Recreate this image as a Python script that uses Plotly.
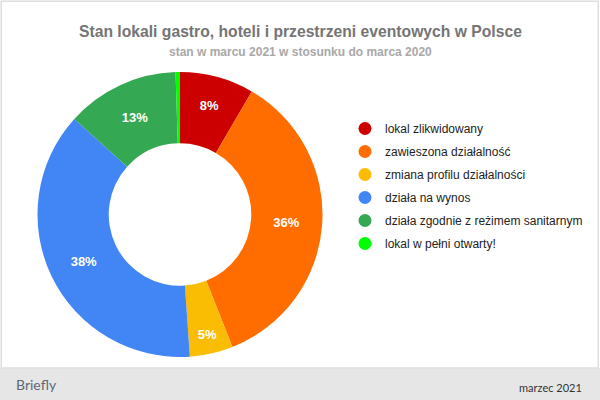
import plotly.graph_objects as go

categories = ["lokal zlikwidowany", "zawieszona działalność", "zmiana profilu działalności",
              "działa na wynos", "działa zgodnie z reżimem sanitarnym", "lokal w pełni otwarty!"]
values = [8.4, 35.6, 4.9, 37.8, 12.8, 0.5]
colors = ["#cc0000", "#ff6d01", "#fbbc04", "#4285f4", "#34a853", "#00ff00"]
shown_labels = ["%{percent:.0%}"] * 5 + [""]

title = "Stan lokali gastro, hoteli i przestrzeni eventowych w Polsce"
subtitle = "stan w marcu 2021 w stosunku do marca 2020"
footer_left = "Briefly"
footer_right = "marzec 2021"

fig = go.Figure()
fig.add_trace(go.Pie(
    labels=categories, values=values, sort=False, direction="clockwise", rotation=0,
    hole=0.5, marker=dict(colors=colors, line=dict(width=0)),
    texttemplate=shown_labels, textposition="inside", insidetextorientation="horizontal",
    textfont=dict(family="Liberation Sans, Arial", size=13, color="white", weight="bold"),
    domain=dict(x=[37.5/600, 322.5/600], y=[43/400, 328/400]),
    showlegend=False, hoverinfo="label+percent",
))
for name, col in zip(categories, colors):
    fig.add_trace(go.Scatter(
        x=[None], y=[None], mode="markers", name=name, legendgroup=name,
        marker=dict(color=col, size=13, symbol="circle"),
    ))

fig.update_layout(
    width=600, height=400, margin=dict(l=0, r=0, t=0, b=0),
    paper_bgcolor="white", plot_bgcolor="white",
    xaxis=dict(visible=False), yaxis=dict(visible=False),
    legend=dict(x=345/600, y=1-114/400, xanchor="left", yanchor="top",
                font=dict(family="Liberation Sans, Arial", size=12, color="#222222"),
                tracegroupgap=4, bgcolor="rgba(0,0,0,0)"),
    shapes=[
        dict(type="rect", xref="paper", yref="paper", x0=0, x1=1, y0=0, y1=32/400,
             fillcolor="#e6e6e6", line=dict(width=0), layer="below"),
        dict(type="rect", xref="paper", yref="paper", x0=0.002, x1=0.997, y0=32/400, y1=0.997,
             fillcolor="rgba(0,0,0,0)", line=dict(color="#dedede", width=1.5), layer="above"),
    ],
    annotations=[
        dict(text=title, x=0.5, y=1-31/400, xref="paper", yref="paper", showarrow=False,
             xanchor="center", yanchor="middle",
             font=dict(family="Liberation Sans, Arial", size=15.7, color="#757575", weight="bold")),
        dict(text=subtitle, x=0.5, y=1-52/400, xref="paper", yref="paper", showarrow=False,
             xanchor="center", yanchor="middle",
             font=dict(family="Liberation Sans, Arial", size=12, color="#a8a8a8", weight="bold")),
        dict(text=footer_left, x=14/600, y=16/400, xref="paper", yref="paper", showarrow=False,
             xanchor="left", yanchor="middle",
             font=dict(family="Lato, Open Sans", size=14, color="#5d6877")),
        dict(text=footer_right, x=584/600, y=13/400, xref="paper", yref="paper", showarrow=False,
             xanchor="right", yanchor="middle",
             font=dict(family="Lato, Open Sans", size=11, color="#333333")),
    ],
)
fig.write_html("out.html", config={"displayModeBar": False})

# remove the default body margin so the 600x400 figure fills the window exactly
with open("out.html", encoding="utf-8") as f:
    html = f.read()
html = html.replace("<head>", "<head><style>html,body{margin:0;padding:0;overflow:hidden;}</style>", 1)
with open("out.html", "w", encoding="utf-8") as f:
    f.write(html)
